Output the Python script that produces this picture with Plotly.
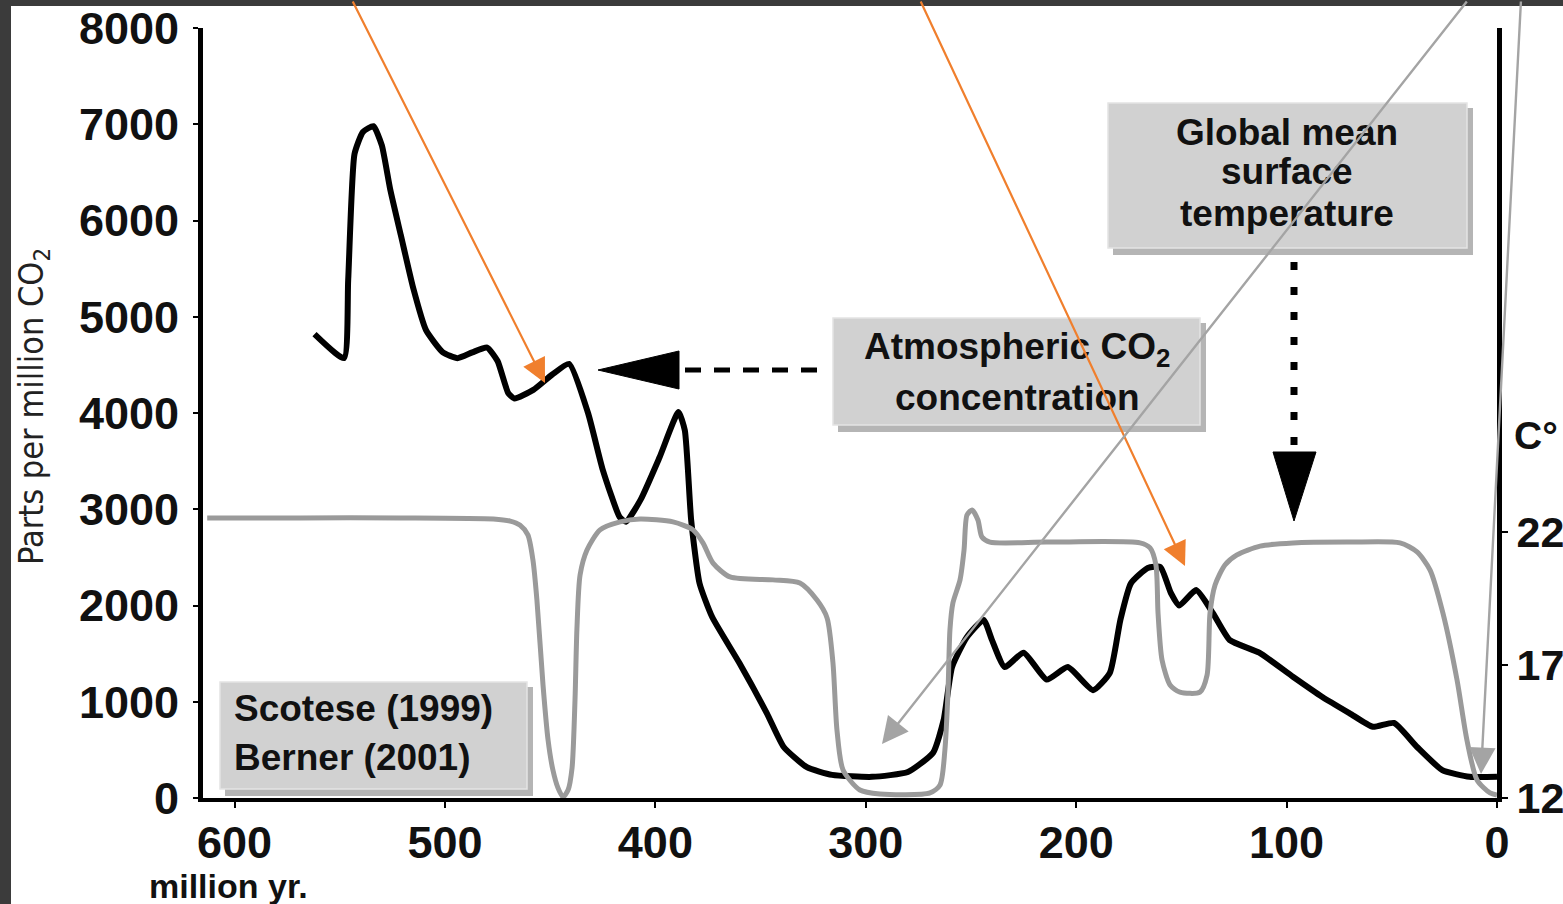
import plotly.graph_objects as go

# Atmospheric CO2 (ppm) through the Phanerozoic, Berner (2001)
co2_age = [562, 548, 546, 543, 539, 534, 530, 526, 521, 515, 509, 501, 494, 487, 480,
           475, 470, 467, 458, 449, 441, 432, 425, 417, 414, 407, 398, 389, 386, 383,
           379, 373, 360, 347, 339, 328, 316, 297, 280, 268, 263, 259, 252, 244, 240,
           234, 225, 214, 204, 192, 184, 179, 174, 166, 160, 155, 151, 143, 135, 127,
           113, 97, 83, 70, 59, 49, 38, 26, 13, 0]
co2_ppm = [4820, 4570, 5380, 6690, 6920, 6980, 6780, 6320, 5850, 5290, 4860, 4630, 4570, 4630, 4680,
           4540, 4210, 4150, 4240, 4400, 4510, 4000, 3410, 2920, 2870, 3100, 3540, 4010, 3820, 2890,
           2230, 1880, 1400, 880, 530, 320, 240, 220, 270, 470, 810, 1360, 1670, 1850, 1640,
           1360, 1510, 1230, 1360, 1120, 1300, 1850, 2230, 2390, 2400, 2130, 2000, 2160, 1920, 1640,
           1510, 1260, 1050, 880, 740, 780, 530, 290, 220, 220]

# Global mean surface temperature (deg C), Scotese (1999)
temp_age = [613, 569, 521, 477, 469, 464.4, 460.6, 458.2, 456.3, 453.4, 451, 448.7, 446.3, 443.9,
            441.5, 439.6, 438.2, 437.3, 435.8, 432.5, 426.3, 416.8, 407.3, 391.6, 382.1, 377.4,
            372.6, 364.5, 344.1, 331.3, 323.2, 318.4, 315.6, 313.7, 310.8, 302.8, 293.3, 269.5,
            264.7, 262.4, 260.9, 260, 258.6, 255.2, 253.3, 251.9, 249.5, 246.7, 244.8, 241,
            213.9, 169.7, 164.9, 162.1, 161.1, 159.2, 155.4, 150.7, 141.2, 137.8, 136.4, 134,
            129.3, 123.6, 112.6, 97, 69.9, 46.1, 38, 31.8, 25.7, 19, 14.3, 9.5, 3.3, 0]
temp_c = [22.53, 22.53, 22.53, 22.49, 22.41, 22.26, 21.89, 20.95, 19.44, 16.25, 14.18, 13.05, 12.38, 12.04,
          12.30, 13.13, 15.68, 18.32, 20.38, 21.32, 22.08, 22.38, 22.49, 22.38, 22.08, 21.59,
          20.83, 20.31, 20.20, 20.08, 19.44, 18.77, 17.08, 14.56, 13.05, 12.30, 12.15, 12.19,
          12.49, 13.80, 16.06, 18.32, 19.33, 20.20, 21.32, 22.64, 22.83, 22.45, 21.81, 21.62,
          21.62, 21.59, 21.40, 20.76, 18.95, 17.19, 16.25, 15.98, 15.98, 16.62, 18.95, 20.01,
          20.76, 21.14, 21.47, 21.59, 21.62, 21.59, 21.25, 20.57, 18.95, 16.44, 14.18, 12.68, 12.19, 12.11]

age_ticks = [600, 500, 400, 300, 200, 100, 0]
ppm_ticks = [0, 1000, 2000, 3000, 4000, 5000, 6000, 7000, 8000]
temp_ticks = [12, 17, 22]

W, H = 1563, 904
L, R, T, B = 203, 66, 28, 106
PW, PH = W - L - R, H - T - B


def px(x):
    return (x - L) / PW


def py(y):
    return (H - B - y) / PH


BOLD = dict(family="Liberation Sans, Arial, sans-serif", weight="bold", color="#111111")

fig = go.Figure()
fig.add_trace(go.Scatter(x=temp_age, y=temp_c, yaxis="y2", mode="lines",
                         line=dict(color="#9a9a9a", width=5, shape="spline", smoothing=0.7),
                         showlegend=False, hoverinfo="skip"))
fig.add_trace(go.Scatter(x=co2_age, y=co2_ppm, mode="lines",
                         line=dict(color="#000000", width=6, shape="spline", smoothing=0.5),
                         showlegend=False, hoverinfo="skip"))

shapes = [
    # white page over the dark frame
    dict(type="rect", xref="paper", yref="paper", layer="below",
         x0=px(11), x1=px(W + 5), y0=py(H + 5), y1=py(6),
         fillcolor="white", line=dict(width=0)),
]


def label_box(x0, y0, x1, y1):
    return [
        dict(type="rect", xref="paper", yref="paper", layer="above",
             x0=px(x0 + 5), x1=px(x1 + 6), y0=py(y1 + 7), y1=py(y0 + 5),
             fillcolor="rgba(120,120,120,0.55)", line=dict(width=0)),
        dict(type="rect", xref="paper", yref="paper", layer="above",
             x0=px(x0), x1=px(x1), y0=py(y1), y1=py(y0),
             fillcolor="#d1d1d1", line=dict(color="#e4e4e4", width=1.5)),
    ]


shapes += label_box(833, 318, 1200, 425)
shapes += label_box(1108, 103, 1467, 248)
shapes += label_box(220, 682, 527, 789)

# dashed pointer with left-pointing head
shapes.append(dict(type="line", xref="paper", yref="paper", layer="above",
                   x0=px(685), x1=px(820), y0=py(370), y1=py(370),
                   line=dict(color="black", width=5, dash="16px,13px")))
shapes.append(dict(type="path", xref="paper", yref="paper", layer="above",
                   path=f"M {px(598)} {py(370)} L {px(679)} {py(351)} L {px(679)} {py(389)} Z",
                   fillcolor="black", line=dict(color="black", width=1)))
# dotted pointer with downward head
shapes.append(dict(type="line", xref="paper", yref="paper", layer="above",
                   x0=px(1294), x1=px(1294), y0=py(262), y1=py(450),
                   line=dict(color="black", width=7, dash="8px,17px")))
shapes.append(dict(type="path", xref="paper", yref="paper", layer="above",
                   path=f"M {px(1273)} {py(452)} L {px(1316)} {py(452)} L {px(1294)} {py(521)} Z",
                   fillcolor="black", line=dict(color="black", width=1)))

ann = []


def text(x, y, s, size, anchor="center", **kw):
    ann.append(dict(x=px(x), y=py(y), xref="paper", yref="paper", text=s, showarrow=False,
                    xanchor=anchor, yanchor="middle", font=dict(BOLD, size=size), **kw))


text(1017, 349, "Atmospheric CO<sub>2</sub>", 37)
text(1017, 397, "concentration", 37)
text(1287, 132, "Global mean", 37)
text(1287, 172, "surface", 37)
text(1287, 213, "temperature", 37)
text(232, 708, "Scotese (1999)", 37, anchor="left")
text(232, 757, "Berner (2001)", 37, anchor="left")
text(228, 886, "million yr.", 34)
text(1512, 435, "C°", 39, anchor="left")

ann.append(dict(x=px(33), y=py(407), xref="paper", yref="paper", showarrow=False,
                text="Parts per million CO<sub>2</sub>", textangle=-90,
                xanchor="center", yanchor="middle",
                font=dict(family="Liberation Sans Narrow, DejaVu Sans Condensed, Arial Narrow, sans-serif",
                          size=34, color="#222222")))


def pointer(tip, tail, color, width):
    ann.append(dict(x=px(tip[0]), y=py(tip[1]), xref="paper", yref="paper", text="",
                    showarrow=True, ax=tail[0] - tip[0], ay=tail[1] - tip[1],
                    arrowcolor=color, arrowwidth=width, arrowhead=2, arrowsize=2.2,
                    standoff=0, startstandoff=0))


pointer((545, 383), (352, -4), "#f07f2d", 2.2)
pointer((1185, 566), (920, -4), "#f07f2d", 2.2)
pointer((882, 744), (1468, -4), "#a4a4a4", 2.4)
pointer((1481, 774), (1521, -4), "#a4a4a4", 2.4)

tickfont = dict(BOLD, size=45)
temp_top = 12 + PH / 26.6

fig.update_layout(
    width=W, height=H,
    margin=dict(l=L, r=R, t=T, b=B, pad=0, autoexpand=False),
    paper_bgcolor="#3b3b3b", plot_bgcolor="rgba(0,0,0,0)",
    shapes=shapes, annotations=ann,
    xaxis=dict(range=[615, 0], tickvals=age_ticks, ticktext=[str(v) for v in age_ticks],
               showgrid=False, zeroline=False, showline=True, linecolor="black", linewidth=4,
               ticks="outside", ticklen=6, tickwidth=2, tickcolor="black", automargin=False,
               tickfont=tickfont, ticklabelstandoff=-4),
    yaxis=dict(range=[0, 8000], tickvals=ppm_ticks, showgrid=False, zeroline=False,
               showline=True, linecolor="black", linewidth=5, automargin=False,
               ticks="outside", ticklen=5, tickwidth=2, tickcolor="black",
               tickfont=tickfont, ticklabelstandoff=5),
    yaxis2=dict(range=[12, temp_top], tickvals=temp_ticks, overlaying="y", side="right",
                showgrid=False, zeroline=False, showline=True, linecolor="black", linewidth=5,
                ticks="outside", ticklen=6, tickwidth=2, tickcolor="black", automargin=False,
                tickfont=dict(BOLD, size=43), ticklabelstandoff=0),
)

fig.write_html("out.html")
